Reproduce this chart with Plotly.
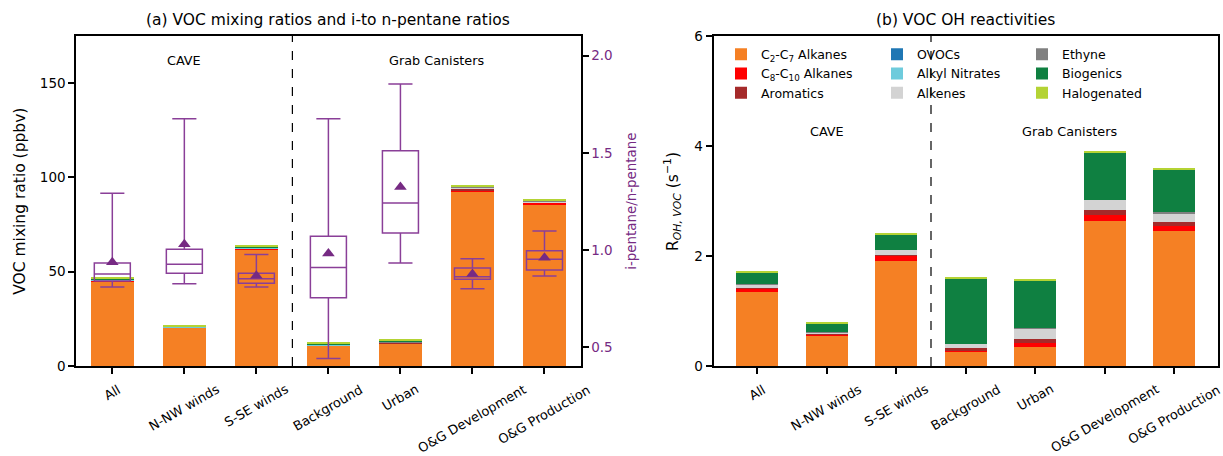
import plotly.graph_objects as go

categories = ["All", "N-NW winds", "S-SE winds", "Background", "Urban",
              "O&G Development", "O&G Production"]

group_names = ["C<sub>2</sub>-C<sub>7</sub> Alkanes", "C<sub>8</sub>-C<sub>10</sub> Alkanes",
               "Aromatics", "OVOCs", "Alkyl Nitrates", "Alkenes", "Ethyne",
               "Biogenics", "Halogenated"]
group_colors = ["#f58024", "#ff0000", "#a52a2a", "#1f77b4", "#6ecbdc",
                "#d3d3d3", "#808080", "#0f8041", "#b4d334"]

# (a) mixing ratios, ppbv
mr_c2c7 = [45.0, 20.3, 61.8, 10.7, 11.8, 92.5, 85.2]
mr_c8c10 = [0.2, 0.0, 0.3, 0.0, 0.2, 0.4, 1.3]
mr_arom = [0.1, 0.0, 0.1, 0.0, 0.3, 1.2, 0.4]
mr_ovoc = [0.0, 0.0, 0.0, 0.0, 0.0, 0.0, 0.0]
mr_nitr = [0.4, 0.4, 0.5, 0.5, 0.0, 0.0, 0.0]
mr_alkene = [0.2, 0.2, 0.2, 0.1, 0.4, 0.5, 0.4]
mr_ethyne = [0.2, 0.1, 0.2, 0.1, 0.4, 0.4, 0.4]
mr_bio = [0.5, 0.1, 0.4, 0.5, 0.2, 0.1, 0.1]
mr_halo = [0.4, 0.5, 0.5, 0.5, 0.5, 0.6, 0.6]
mixing = [mr_c2c7, mr_c8c10, mr_arom, mr_ovoc, mr_nitr, mr_alkene, mr_ethyne, mr_bio, mr_halo]

# i-pentane / n-pentane ratio statistics
ratio_lowerfence = [0.810, 0.827, 0.810, 0.443, 0.934, 0.801, 0.867]
ratio_q1 = [0.841, 0.881, 0.829, 0.755, 1.088, 0.850, 0.898]
ratio_median = [0.877, 0.927, 0.853, 0.910, 1.242, 0.863, 0.953]
ratio_q3 = [0.934, 1.004, 0.881, 1.071, 1.511, 0.908, 0.997]
ratio_upperfence = [1.292, 1.676, 0.978, 1.676, 1.854, 0.956, 1.098]
ratio_mean = [0.937, 1.030, 0.868, 0.983, 1.325, 0.877, 0.961]

# (b) OH reactivities, s^-1
r_c2c7 = [1.35, 0.55, 1.91, 0.26, 0.35, 2.64, 2.46]
r_c8c10 = [0.05, 0.02, 0.09, 0.015, 0.06, 0.10, 0.09]
r_arom = [0.01, 0.005, 0.01, 0.06, 0.08, 0.10, 0.07]
r_ovoc = [0.0, 0.0, 0.0, 0.0, 0.0, 0.0, 0.0]
r_nitr = [0.0, 0.0, 0.0, 0.0, 0.0, 0.0, 0.0]
r_alkene = [0.08, 0.04, 0.10, 0.07, 0.20, 0.18, 0.16]
r_ethyne = [0.005, 0.003, 0.005, 0.003, 0.01, 0.005, 0.012]
r_bio = [0.21, 0.16, 0.27, 1.18, 0.86, 0.86, 0.78]
r_halo = [0.018, 0.018, 0.018, 0.018, 0.018, 0.018, 0.018]
reactivity = [r_c2c7, r_c8c10, r_arom, r_ovoc, r_nitr, r_alkene, r_ethyne, r_bio, r_halo]

FONT = "DejaVu Sans"
PURPLE = "#762a83"
BOXLINE = "#8a3f98"
W, H = 1223, 456
TICK = 13.5
XTICK = 13

fig = go.Figure()

for i, vals in enumerate(mixing):
    fig.add_trace(go.Bar(x=categories, y=vals, marker=dict(color=group_colors[i], line=dict(width=0)),
                         width=0.6, showlegend=False, xaxis="x", yaxis="y"))

legend_ids = ["legend", "legend", "legend", "legend2", "legend2", "legend2",
              "legend3", "legend3", "legend3"]
for i, vals in enumerate(reactivity):
    fig.add_trace(go.Bar(x=categories, y=vals, name=group_names[i],
                         marker=dict(color=group_colors[i], line=dict(width=0)),
                         width=0.6, showlegend=True, legend=legend_ids[i],
                         xaxis="x2", yaxis="y3"))

fig.add_trace(go.Box(x=categories, q1=ratio_q1, median=ratio_median, q3=ratio_q3,
                     lowerfence=ratio_lowerfence, upperfence=ratio_upperfence,
                     boxpoints=False, width=0.5, whiskerwidth=0.67,
                     fillcolor="rgba(0,0,0,0)", line=dict(color=BOXLINE, width=1.5),
                     showlegend=False, xaxis="x", yaxis="y2"))
fig.add_trace(go.Scatter(x=categories, y=ratio_mean, mode="markers",
                         marker=dict(symbol="triangle-up", size=11, color=PURPLE),
                         showlegend=False, xaxis="x", yaxis="y2"))

tickfont = dict(family=FONT, size=TICK, color="black")
axcommon = dict(showgrid=False, zeroline=False, showline=True, linecolor="black", linewidth=2,
                ticks="outside", ticklen=6, tickwidth=2, tickcolor="black", tickfont=tickfont,
                automargin=False)

Y0, Y1 = 1 - 366 / H, 1 - 36 / H
LX0, LX1 = 76.3 / W, 580.5 / W
RX0, RX1 = 713.5 / W, 1218 / W
legend_common = dict(xanchor="left", yanchor="top", traceorder="normal",
                     font=dict(family=FONT, size=12.5, color="black"), bgcolor="rgba(0,0,0,0)")
fig.update_layout(
    template="none",
    width=W, height=H, margin=dict(l=0, r=0, t=0, b=0, pad=0),
    paper_bgcolor="white", plot_bgcolor="white",
    barmode="stack", boxmode="overlay", font=dict(family=FONT, size=12.5, color="black"),
    xaxis=dict(axcommon, domain=[LX0, LX1], type="category", range=[-0.5, 6.5],
               showticklabels=False, mirror=True, anchor="y"),
    yaxis=dict(axcommon, domain=[Y0, Y1], range=[0, 175], tickvals=[0, 50, 100, 150],
               anchor="x", mirror=False),
    yaxis2=dict(axcommon, overlaying="y", side="right", anchor="x", range=[0.404, 2.101],
                tickvals=[0.5, 1.0, 1.5, 2.0], tickformat=".1f",
                tickfont=dict(family=FONT, size=TICK, color=PURPLE)),
    xaxis2=dict(axcommon, domain=[RX0, RX1], type="category", range=[-0.63, 6.63],
                showticklabels=False, mirror=True, anchor="y3"),
    yaxis3=dict(axcommon, domain=[Y0, Y1], range=[0, 6], tickvals=[0, 2, 4, 6],
                anchor="x2", mirror=True),
    legend=dict(legend_common, x=721 / W, y=1 - 39.5 / H),
    legend2=dict(legend_common, x=877 / W, y=1 - 39.5 / H),
    legend3=dict(legend_common, x=1022 / W, y=1 - 39.5 / H),
)

fig.add_shape(type="line", xref="x", yref="y domain", x0=2.5, x1=2.5, y0=0, y1=1,
              line=dict(color="black", width=1.2, dash="dash"))
fig.add_shape(type="line", xref="x2", yref="y3 domain", x0=2.5, x1=2.5, y0=0, y1=1,
              line=dict(color="black", width=1.2, dash="dash"))

ann = [
    dict(text="(a) VOC mixing ratios and i-to n-pentane ratios", x=(LX0 + LX1) / 2, y=1 - 20 / H,
         xref="paper", yref="paper", font=dict(size=15.5)),
    dict(text="(b) VOC OH reactivities", x=(RX0 + RX1) / 2, y=1 - 20 / H,
         xref="paper", yref="paper", font=dict(size=15.5)),
    dict(text="CAVE", x=1, y=162, xref="x", yref="y", font=dict(size=12.8)),
    dict(text="Grab Canisters", x=4.5, y=162, xref="x", yref="y", font=dict(size=12.8)),
    dict(text="CAVE", x=1, y=4.27, xref="x2", yref="y3", font=dict(size=12.8)),
    dict(text="Grab Canisters", x=4.5, y=4.27, xref="x2", yref="y3", font=dict(size=12.8)),
    dict(text="VOC mixing ratio (ppbv)", x=19.8 / W, y=(Y0 + Y1) / 2, xref="paper", yref="paper",
         textangle=-90, font=dict(size=15.5)),
    dict(text="i-pentane/n-pentane", x=630.8 / W, y=(Y0 + Y1) / 2, xref="paper", yref="paper",
         textangle=-90, font=dict(size=13.4, color=PURPLE)),
    dict(text="R<sub><i>OH, VOC</i></sub> (s<sup>−1</sup>)", x=672 / W, y=(Y0 + Y1) / 2,
         xref="paper", yref="paper", textangle=-90, font=dict(size=15.5)),
]
for a in ann:
    a["font"].setdefault("family", FONT)
    a["font"].setdefault("color", "black")
    fig.add_annotation(showarrow=False, xanchor="center", yanchor="middle", **a)

# rotated category labels, centred under each tick (as in the reference)
for xref in ["x", "x2"]:
    for c in categories:
        fig.add_annotation(text=c, x=c, y=Y0, xref=xref, yref="paper", showarrow=False,
                           textangle=-30, xanchor="center", yanchor="top", yshift=-13,
                           font=dict(family=FONT, size=XTICK, color="black"))

fig.write_html("out.html")
